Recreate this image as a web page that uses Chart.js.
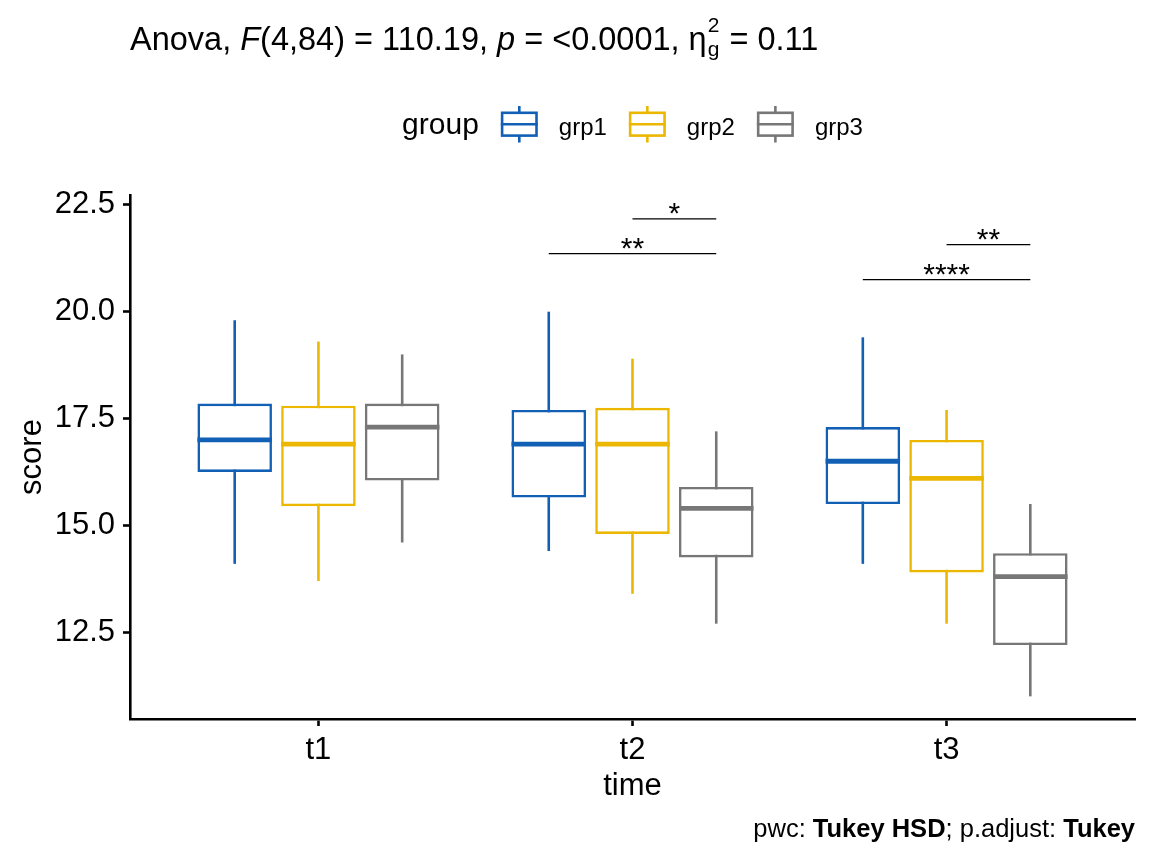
<!DOCTYPE html>
<html>
<head>
<meta charset="utf-8">
<script src="https://cdn.jsdelivr.net/npm/chart.js@4.4.1/dist/chart.umd.min.js"></script>
<style>
  html, body { margin: 0; padding: 0; background: #fff; }
  #wrap { width: 1152px; height: 864px; }
</style>
</head>
<body>
<div id="wrap"><canvas id="box-chart" width="1152" height="864"></canvas></div>
<script>
let timePoints = ['t1', 't2', 't3'];
let groups = ['grp1', 'grp2', 'grp3'];
let groupColors = ['#1260B6', '#EBB700', '#777777'];

// five number summary of each group, one value per time point
let grp1Min = [14.1, 14.4, 14.1];
let grp1Q1 = [16.25, 15.65, 15.5];
let grp1Med = [17.0, 16.9, 16.5];
let grp1Q3 = [17.85, 17.7, 17.3];
let grp1Max = [19.8, 20.0, 19.4];

let grp2Min = [13.7, 13.4, 12.7];
let grp2Q1 = [15.45, 14.8, 13.9];
let grp2Med = [16.9, 16.9, 16.1];
let grp2Q3 = [17.8, 17.75, 17.0];
let grp2Max = [19.3, 18.9, 17.7];

let grp3Min = [14.6, 12.7, 11.0];
let grp3Q1 = [16.05, 14.25, 12.2];
let grp3Med = [17.3, 15.4, 13.8];
let grp3Q3 = [17.85, 15.9, 14.35];
let grp3Max = [19.0, 17.2, 15.5];

let yTicks = [12.5, 15.0, 17.5, 20.0, 22.5];

// pairwise comparisons drawn as brackets
let bracketTime = ['t2', 't2', 't3', 't3'];
let bracketFrom = ['grp2', 'grp1', 'grp2', 'grp1'];
let bracketTo = ['grp3', 'grp3', 'grp3', 'grp3'];
let bracketY = [22.17, 21.36, 21.57, 20.75];
let bracketLabel = ['*', '**', '**', '****'];

const FONT = "'Liberation Sans', Arial, Helvetica, sans-serif";
const LW = 2.6;

const mins = [grp1Min, grp2Min, grp3Min];
const q1s = [grp1Q1, grp2Q1, grp3Q1];
const meds = [grp1Med, grp2Med, grp3Med];
const q3s = [grp1Q3, grp2Q3, grp3Q3];
const maxs = [grp1Max, grp2Max, grp3Max];

let datasets = [];
for (let g = 0; g < groups.length; g++) {
    datasets.push({
        label: groups[g],
        data: timePoints.map((t, i) => ({ x: i + 1, y: [q1s[g][i], q3s[g][i]] })),
        backgroundColor: '#ffffff',
        borderColor: groupColors[g],
        borderWidth: LW,
        borderSkipped: false
    });
}

function drawRuns(ctx, runs, x, y) {
    for (let r of runs) {
        ctx.font = r.font;
        ctx.fillText(r.text, x, y + (r.dy || 0));
        x += ctx.measureText(r.text).width;
    }
    return x;
}

function runsWidth(ctx, runs) {
    let w = 0;
    for (let r of runs) {
        ctx.font = r.font;
        w += ctx.measureText(r.text).width;
    }
    return w;
}

const boxExtras = {
    id: 'boxExtras',
    beforeDatasetsDraw(chart) {
        const ctx = chart.ctx;
        const yScale = chart.scales.y;
        ctx.save();
        ctx.lineWidth = LW;
        ctx.lineCap = 'butt';
        for (let g = 0; g < groups.length; g++) {
            const meta = chart.getDatasetMeta(g);
            ctx.strokeStyle = groupColors[g];
            meta.data.forEach((bar, i) => {
                ctx.beginPath();
                ctx.moveTo(bar.x, yScale.getPixelForValue(maxs[g][i]));
                ctx.lineTo(bar.x, yScale.getPixelForValue(mins[g][i]));
                ctx.stroke();
            });
        }
        ctx.restore();
    },
    afterDatasetsDraw(chart) {
        const ctx = chart.ctx;
        const yScale = chart.scales.y;
        ctx.save();
        // medians
        ctx.lineWidth = 4.8;
        for (let g = 0; g < groups.length; g++) {
            const meta = chart.getDatasetMeta(g);
            ctx.strokeStyle = groupColors[g];
            meta.data.forEach((bar, i) => {
                const y = yScale.getPixelForValue(meds[g][i]);
                ctx.beginPath();
                ctx.moveTo(bar.x - bar.width / 2, y);
                ctx.lineTo(bar.x + bar.width / 2, y);
                ctx.stroke();
            });
        }
        // significance brackets
        ctx.strokeStyle = '#000';
        ctx.fillStyle = '#000';
        ctx.lineWidth = 1.3;
        ctx.textAlign = 'center';
        ctx.textBaseline = 'alphabetic';
        ctx.font = '30px ' + FONT;
        for (let k = 0; k < bracketLabel.length; k++) {
            const ti = timePoints.indexOf(bracketTime[k]);
            const b1 = chart.getDatasetMeta(groups.indexOf(bracketFrom[k])).data[ti];
            const b2 = chart.getDatasetMeta(groups.indexOf(bracketTo[k])).data[ti];
            const y = yScale.getPixelForValue(bracketY[k]);
            ctx.beginPath();
            ctx.moveTo(b1.x, y);
            ctx.lineTo(b2.x, y);
            ctx.stroke();
            ctx.fillText(bracketLabel[k], (b1.x + b2.x) / 2, y + 4);
        }
        ctx.restore();
    },
    afterDraw(chart) {
        const ctx = chart.ctx;
        ctx.save();
        ctx.fillStyle = '#000';
        ctx.textAlign = 'left';
        ctx.textBaseline = 'alphabetic';

        // title
        const big = '32.5px ' + FONT;
        const bigIt = 'italic 32.5px ' + FONT;
        const small = '21px ' + FONT;
        let x = drawRuns(ctx, [
            { text: 'Anova, ', font: big },
            { text: 'F', font: bigIt },
            { text: '(4,84) = 110.19, ', font: big },
            { text: 'p', font: bigIt },
            { text: ' = <0.0001, \u03b7', font: big }
        ], 130, 50);
        ctx.font = small;
        const w2 = ctx.measureText('2').width;
        const wg = ctx.measureText('g').width;
        ctx.fillText('2', x + 1, 32);
        ctx.fillText('g', x + 1, 56);
        x += Math.max(w2, wg) + 2;
        drawRuns(ctx, [{ text: ' = 0.11', font: big }], x, 50);

        // legend
        const titleFont = '30px ' + FONT;
        const labFont = '24px ' + FONT;
        ctx.font = titleFont;
        const titleW = ctx.measureText('group').width;
        ctx.font = labFont;
        const labW = groups.map(s => ctx.measureText(s).width);
        const iconW = 37, gapA = 22, gapB = 21;
        let total = titleW;
        labW.forEach(w => { total += gapA + iconW + gapB + w; });
        const area = chart.chartArea;
        let lx = (area.left + area.right) / 2 - total / 2;
        ctx.font = titleFont;
        ctx.fillText('group', lx, 134);
        lx += titleW;
        for (let g = 0; g < groups.length; g++) {
            lx += gapA;
            ctx.strokeStyle = groupColors[g];
            ctx.lineWidth = LW;
            const cx = lx + iconW / 2;
            ctx.strokeRect(lx + LW / 2, 112.8, iconW - LW, 22.8);
            ctx.beginPath();
            ctx.moveTo(cx, 106); ctx.lineTo(cx, 112.8);
            ctx.moveTo(cx, 135.6); ctx.lineTo(cx, 142.5);
            ctx.moveTo(lx, 124.2); ctx.lineTo(lx + iconW, 124.2);
            ctx.stroke();
            lx += iconW + gapB;
            ctx.font = labFont;
            ctx.fillText(groups[g], lx, 135);
            lx += labW[g];
        }

        // caption
        const capRuns = [
            { text: 'pwc: ', font: '25.5px ' + FONT },
            { text: 'Tukey HSD', font: 'bold 25.5px ' + FONT },
            { text: '; p.adjust: ', font: '25.5px ' + FONT },
            { text: 'Tukey', font: 'bold 25.5px ' + FONT }
        ];
        drawRuns(ctx, capRuns, area.right - runsWidth(ctx, capRuns), 837);
        ctx.restore();
    }
};

const ctx = document.getElementById('box-chart').getContext('2d');

let boxChart = new Chart(ctx, {
    type: 'bar',
    data: { datasets: datasets },
    options: {
        responsive: false,
        animation: false,
        layout: { padding: { top: 195, right: 17, left: 0, bottom: 0 } },
        plugins: { legend: { display: false }, tooltip: { enabled: false } },
        datasets: { bar: { categoryPercentage: 0.8, barPercentage: 0.89, grouped: true } },
        scales: {
            x: {
                type: 'linear',
                min: 0.4,
                max: 3.6,
                offset: false,
                afterBuildTicks: s => { s.ticks = timePoints.map((t, i) => ({ value: i + 1 })); },
                afterFit: s => { s.height = 145; },
                ticks: {
                    callback: v => timePoints[v - 1],
                    font: { family: FONT, size: 31 },
                    color: '#000',
                    padding: 6,
                    maxRotation: 0,
                    autoSkip: false
                },
                grid: { drawOnChartArea: false, offset: false, tickLength: 7, tickWidth: LW, tickColor: '#000' },
                border: { display: true, color: '#000', width: LW },
                title: { display: true, text: 'time', font: { family: FONT, size: 31 }, color: '#000', padding: { top: 0, bottom: 59 } }
            },
            y: {
                type: 'linear',
                min: 10.47,
                max: 22.73,
                afterBuildTicks: s => { s.ticks = yTicks.map(v => ({ value: v })); },
                afterFit: s => { s.width = 130; },
                ticks: {
                    callback: v => v.toFixed(1),
                    font: { family: FONT, size: 31 },
                    color: '#000',
                    padding: 8
                },
                grid: { drawOnChartArea: false, tickLength: 7, tickWidth: LW, tickColor: '#000' },
                border: { display: true, color: '#000', width: LW },
                title: { display: true, text: 'score', font: { family: FONT, size: 31 }, color: '#000', padding: { top: 14, bottom: 0 } }
            }
        }
    },
    plugins: [boxExtras]
});
</script>
</body>
</html>
